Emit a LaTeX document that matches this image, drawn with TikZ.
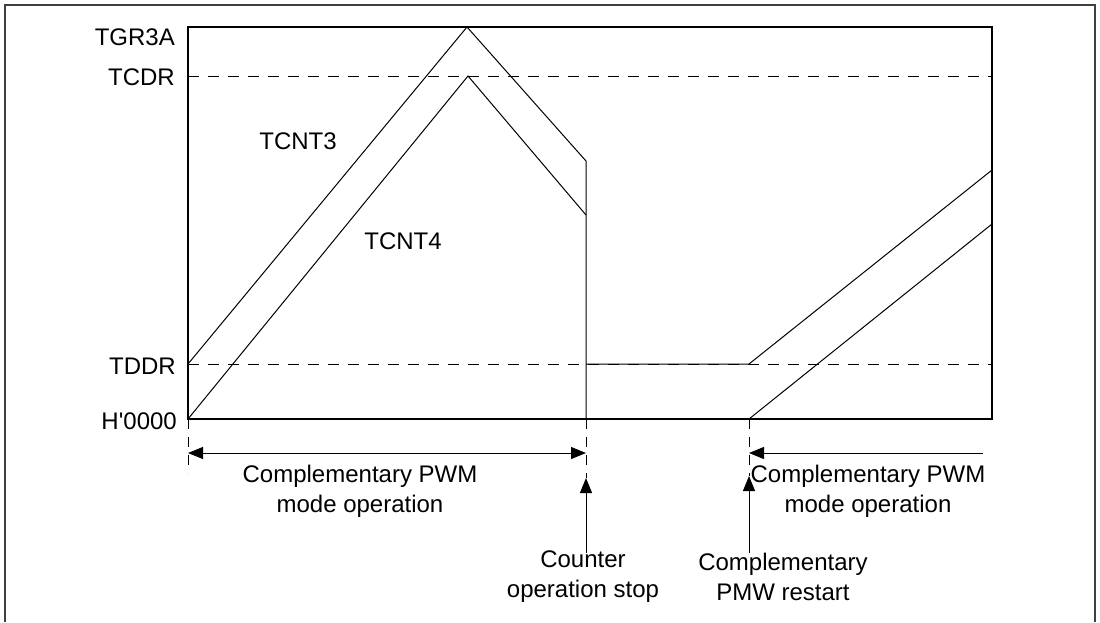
\documentclass[tikz,border=0pt]{standalone}
\usepackage{fontspec}
\setmainfont{Liberation Sans}
\usetikzlibrary{arrows.meta}
\begin{document}
\begin{tikzpicture}[x=1pt,y=-1pt,
  every node/.style={font=\fontsize{24}{30}\selectfont, inner sep=0pt},
  wave/.style={line width=1pt, line join=miter},
  guide/.style={line width=0.9pt, dash pattern=on 11pt off 9pt},
  frame/.style={line width=1.6pt, draw=black!75},
  box/.style={line width=1.1pt},
  dim/.style={line width=1pt, -{Triangle[length=15pt,width=12pt]}},
  dimboth/.style={line width=1pt, {Triangle[length=15pt,width=12pt]}-{Triangle[length=15pt,width=12pt]}},
  lbl/.style={anchor=east},
  captext/.style={align=center}]
\useasboundingbox (0,0) rectangle (1100,622);
% outer frame
\draw[frame] (5,622) -- (5,5) -- (1095,5) -- (1095,622);
% coordinates
\coordinate (tl) at (188,27);
\coordinate (tr) at (992,27);
\coordinate (bl) at (188,419);
\coordinate (br) at (992,419);
\coordinate (stop) at (586,419);
\coordinate (restart) at (749,419);
% dashed levels
\draw[guide] (188,76) -- (992,76);
\draw[guide] (188,364) -- (992,364);
% box
\draw[box] (tl) -- (tr) -- (br) -- (bl) -- cycle;
% TCNT3
\draw[wave] (188,364) -- (467,27) -- (586,161) -- (stop);
\draw[wave] (586,364) -- (749,364) -- (992,170);
% TCNT4
\draw[wave] (bl) -- (468,76) -- (586,215);
\draw[wave] (restart) -- (992,224);
% labels on left
\node[lbl] (tgr) at (175,37) {TGR3A};
\node[lbl] (tcdr) at (175,77) {TCDR};
\node[lbl] (tddr) at (176,366) {TDDR};
\node[lbl] (zero) at (177,421) {H\textquotesingle 0000};
\node (t3) at (298,141) {TCNT3};
\node (t4) at (403,241) {TCNT4};
% dashed drop lines
\coordinate (d1) at (188,473);
\coordinate (d2) at (586,478);
\coordinate (d3) at (749,476);
\draw[guide, dash pattern=on 10pt off 8pt] (bl) -- (d1);
\draw[guide, dash pattern=on 10pt off 8pt] (stop) -- (d2);
\draw[guide, dash pattern=on 10pt off 8pt] (restart) -- (d3);
% horizontal dimension arrows
\coordinate (a1) at (188,453);
\coordinate (a2) at (586,453);
\coordinate (a3) at (749,453);
\coordinate (a4) at (983,453);
\draw[dimboth] (a1) -- (a2);
\draw[dim] (a4) -- (a3);
\node[captext] (m1) at (360,491) {Complementary PWM\\mode operation};
\node[captext] (m2) at (868,491) {Complementary PWM\\mode operation};
% event arrows
\coordinate (e1) at (586,553);
\coordinate (e2) at (749,553);
\draw[dim] (e1) -- (d2);
\draw[dim] (e2) -- (d3);
\node[captext] (c1) at (583,577) {Counter\\operation stop};
\node[captext] (c2) at (783,577) {Complementary\\PMW restart};
\end{tikzpicture}
\end{document}
